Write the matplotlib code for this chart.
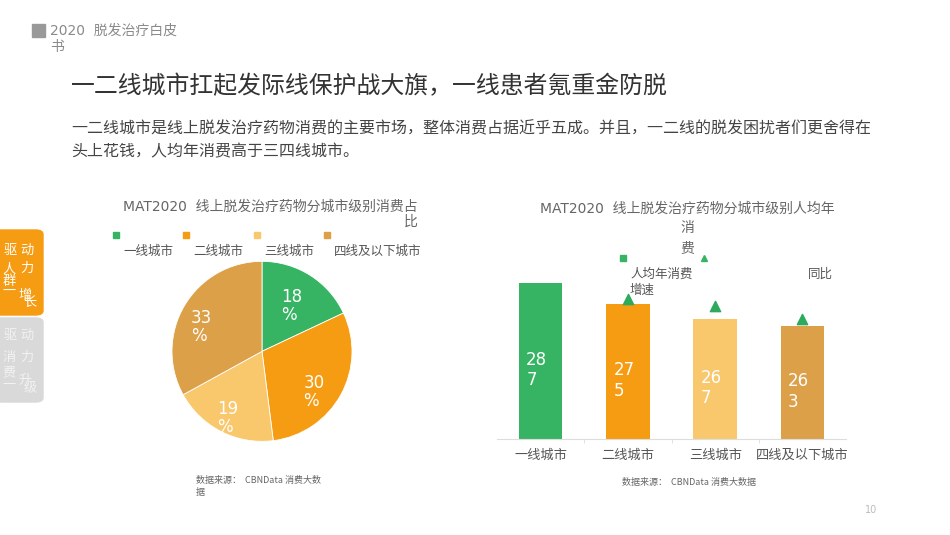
import matplotlib
matplotlib.use('Agg')
import matplotlib.pyplot as plt
from matplotlib.patches import Rectangle, FancyBboxPatch
from matplotlib.lines import Line2D

plt.rcParams['font.family'] = ['Noto Sans CJK SC', 'DejaVu Sans']
LATIN = ['DejaVu Sans', 'Noto Sans CJK SC']

# data
cities = ['一线城市', '二线城市', '三线城市', '四线及以下城市']
share_pct = [18, 30, 19, 33]
spend_per_capita = [287, 275, 267, 263]
growth_marker = [float('nan'), 278, 274, 267]
colors = ['#36B464', '#F59C12', '#F9C86C', '#DBA048']

W, H = 950, 535
fig = plt.figure(figsize=(9.5, 5.35), dpi=100)


def fx(px):
    return px / W


def fy(py):
    return 1 - py / H


# header
fig.patches.append(Rectangle((fx(32), fy(37)), 13 / W, 13 / H, color='#999999',
                             transform=fig.transFigure))
fig.text(fx(50), fy(31), '2020  脱发治疗白皮', fontsize=10, color='#8a8a8a', va='center',
         family=LATIN)
fig.text(fx(50), fy(47), '书', fontsize=10, color='#8a8a8a', va='center')

fig.text(fx(71), fy(87), '一二线城市扛起发际线保护战大旗，一线患者氪重金防脱',
         fontsize=17.2, color='#333333', va='center')
fig.text(fx(71), fy(129),
         '一二线城市是线上脱发治疗药物消费的主要市场，整体消费占据近乎五成。并且，一二线的脱发困扰者们更舍得在',
         fontsize=11.5, color='#444444', va='center')
fig.text(fx(71), fy(152), '头上花钱，人均年消费高于三四线城市。',
         fontsize=11.5, color='#444444', va='center')

# side tabs
fig.patches.append(FancyBboxPatch((fx(-6), fy(315)), 49 / W, 85 / H,
                                  boxstyle='round,pad=0,rounding_size=0.008',
                                  color='#F59C12', transform=fig.transFigure))
fig.patches.append(FancyBboxPatch((fx(-6), fy(402)), 49 / W, 84 / H,
                                  boxstyle='round,pad=0,rounding_size=0.008',
                                  color='#D9D9D9', transform=fig.transFigure))
for ch, x, y, c in [('驱', 10, 250, 'white'), ('动', 27, 250, 'white'),
                    ('人', 9, 269, 'white'), ('力', 27, 268, 'white'),
                    ('群', 9, 282, 'white'), ('一', 9, 291, 'white'),
                    ('增', 25, 296, 'white'), ('长', 30, 302, 'white'),
                    ('驱', 10, 335, '#f2f2f2'), ('动', 27, 335, '#f2f2f2'),
                    ('消', 9, 358, '#f2f2f2'), ('力', 27, 357, '#f2f2f2'),
                    ('费', 9, 373, '#f2f2f2'), ('一', 9, 385, '#f2f2f2'),
                    ('升', 25, 380, '#f2f2f2'), ('级', 30, 389, '#f2f2f2')]:
    fig.text(fx(x), fy(y), ch, fontsize=9.5, color=c, ha='center', va='center')

# pie chart
fig.text(fx(418), fy(214), 'MAT2020  线上脱发治疗药物分城市级别消费占\n比',
         fontsize=10, color='#666666', ha='right', va='center', multialignment='right',
         linespacing=1.1, family=LATIN)
legend_x = [116, 186, 257, 327]
for i, name in enumerate(cities):
    fig.patches.append(Rectangle((fx(legend_x[i] - 3), fy(237.5)), 6 / W, 6 / H,
                                 color=colors[i], transform=fig.transFigure))
    fig.text(fx(legend_x[i] + 7), fy(251.5), name, fontsize=9, color='#555555', va='center')

ax1 = fig.add_axes([fx(172), fy(440), 180 / W, 180 / H])
wedges, texts, autotexts = ax1.pie(
    share_pct, colors=colors, startangle=90, counterclock=False,
    autopct=lambda p: f'{p:.0f}', pctdistance=0.72,
    wedgeprops=dict(edgecolor='white', linewidth=0.6),
    textprops=dict(color='white', fontsize=12, family=LATIN))
for t in autotexts:
    px, py = t.get_position()
    t.set_position((px - 0.17, py))
    t.set_ha('left')
    t.set_clip_on(True)
    pct = ax1.text(px - 0.17, py - 0.2, '%', color='white', fontsize=12, family=LATIN,
                   ha='left', va='center')
    pct.set_clip_on(True)
ax1.set_xlim(-1, 1)
ax1.set_ylim(-0.97, 1)

fig.text(fx(196), fy(481), '数据来源：  CBNData 消费大数', fontsize=6.5, color='#666666',
         va='center')
fig.text(fx(196), fy(492), '据', fontsize=6.5, color='#666666', va='center')

# bar chart
fig.text(fx(687), fy(209), 'MAT2020  线上脱发治疗药物分城市级别人均年',
         fontsize=10, color='#666666', ha='center', va='center', family=LATIN)
fig.text(fx(687), fy(228), '消', fontsize=10, color='#666666', ha='center', va='center')
fig.text(fx(687), fy(248), '费', fontsize=10, color='#666666', ha='center', va='center')
fig.patches.append(Rectangle((fx(620), fy(261)), 6 / W, 6 / H, color='#36B464',
                             transform=fig.transFigure))
fig.add_artist(Line2D([fx(704)], [fy(258)], marker='^', ms=4, color='#36B464', lw=0,
                      transform=fig.transFigure))
fig.text(fx(630), fy(274), '人均年消费', fontsize=9, color='#555555', va='center')
fig.text(fx(630), fy(290), '增速', fontsize=9, color='#555555', va='center')
fig.text(fx(808), fy(274), '同比', fontsize=9, color='#555555', va='center')

ax2 = fig.add_axes([fx(497), fy(439.3), 349 / W, 180 / H])
x = list(range(len(cities)))
ax2.bar(x, spend_per_capita, width=0.5, color=colors)
ax2.scatter(x, growth_marker, marker='^', s=55, color='#2EAA5C', zorder=3, clip_on=False)
for i, v in enumerate(spend_per_capita):
    s = str(v)
    ax2.text(i - 0.165, (200 + v) / 2 - 5, s[:2] + '\n' + s[2:], color='white',
             fontsize=12, ha='left', va='center', multialignment='left', family=LATIN)
ax2.set_xlim(-0.5, 3.5)
ax2.set_ylim(200, 300)
ax2.set_xticks(x)
ax2.set_xticklabels(cities, fontsize=9.5, color='#555555')
ax2.set_xticks([0.5, 1.5, 2.5], minor=True)
ax2.tick_params(axis='x', which='major', length=0, pad=7)
ax2.tick_params(axis='x', which='minor', length=3, color='#dddddd')
ax2.set_yticks([])
for side in ['top', 'right', 'left']:
    ax2.spines[side].set_visible(False)
ax2.spines['bottom'].set_color('#dddddd')

fig.text(fx(622), fy(482), '数据来源：  CBNData 消费大数据', fontsize=6.5, color='#666666',
         va='center')

fig.text(fx(871), fy(510), '10', fontsize=7, color='#bbbbbb', ha='center', va='center',
         family=LATIN)

fig.savefig('out.png', dpi=100)
